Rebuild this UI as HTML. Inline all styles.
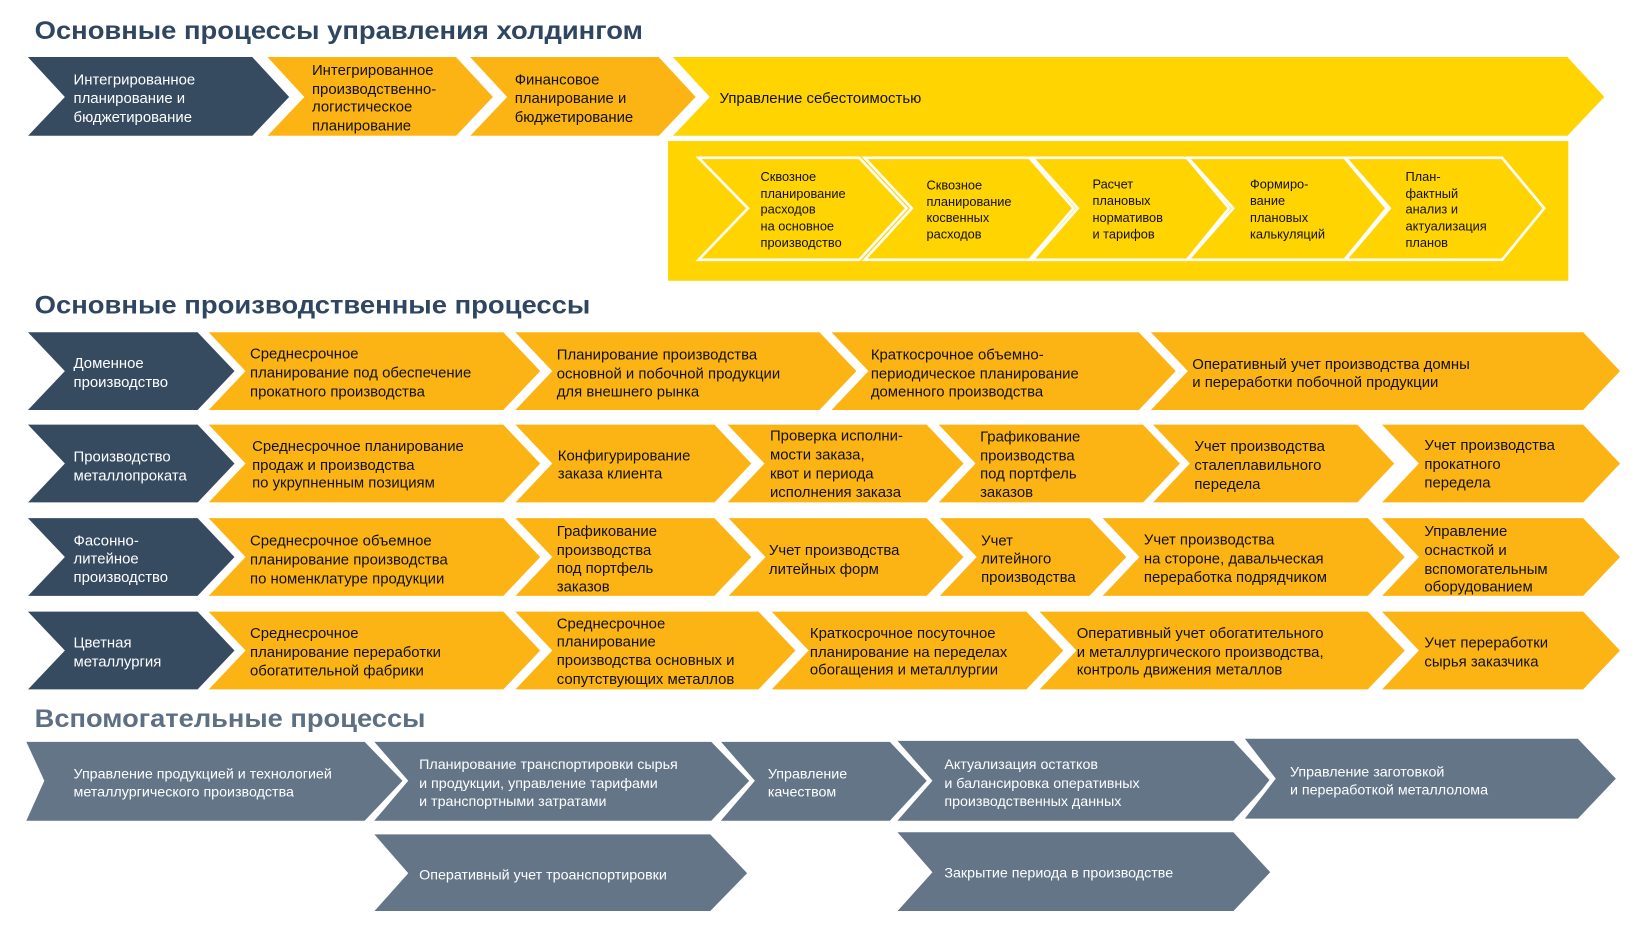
<!DOCTYPE html>
<html><head><meta charset="utf-8"><style>
html,body{margin:0;padding:0;background:#fff;}
svg{display:block;}
text{font-family:"Liberation Sans",Arial,sans-serif;}
.t{font-size:14.2px;fill:#111;}
.w{font-size:14.2px;fill:#fff;}
.g{font-size:13.6px;fill:#fff;}
.s{font-size:12.2px;fill:#111;}
.h{font-size:24px;font-weight:bold;fill:#2f4660;}
</style></head><body>
<svg width="1645" height="925" viewBox="0 0 1566 880" xmlns="http://www.w3.org/2000/svg">
<text class="h" x="33" y="37" textLength="579" lengthAdjust="spacingAndGlyphs">Основные процессы управления холдингом</text>
<text class="h" x="33" y="298" textLength="529" lengthAdjust="spacingAndGlyphs">Основные производственные процессы</text>
<text class="h" x="33" y="692" textLength="372" lengthAdjust="spacingAndGlyphs" style="fill:#5d6f82">Вспомогательные процессы</text>

<g stroke="#fff" stroke-width="4" stroke-linejoin="miter">
<!-- row 1 -->
<polygon fill="#364a60" points="22,52 241,52 278,92 241,131 22,131 59,92"/>
<polygon fill="#fcb415" points="250,52 435,52 472,92 435,131 250,131 287,92"/>
<polygon fill="#fcb415" points="443,52 628,52 665,92 628,131 443,131 480,92"/>
<polygon fill="#ffd400" points="636,52 1493,52 1530,92 1493,131 636,131 673,92"/>
</g>
<rect x="636" y="134" width="857" height="133" fill="#ffd400"/>
<g fill="none" stroke="#fff" stroke-width="2.5">
<polygon points="665,150 818,150 863,198 818,247 665,247 712,198"/>
<polygon points="823,150 980,150 1022,198 980,247 823,247 868,198"/>
<polygon points="983,150 1130,150 1170,198 1130,247 983,247 1026,198"/>
<polygon points="1131,150 1280,150 1320,198 1280,247 1131,247 1174,198"/>
<polygon points="1281,150 1430,150 1470,198 1430,247 1281,247 1323,198"/>
</g>

<g stroke="#fff" stroke-width="4">
<!-- row A -->
<polygon fill="#364a60" points="22,314 189,314 226,353 189,392 22,392 59,353"/>
<polygon fill="#fcb415" points="194,314 480,314 517,353 480,392 194,392 231,353"/>
<polygon fill="#fcb415" points="486,314 781,314 818,353 781,392 486,392 523,353"/>
<polygon fill="#fcb415" points="787,314 1085,314 1122,353 1085,392 787,392 824,353"/>
<polygon fill="#fcb415" points="1091,314 1508,314 1545,353 1508,392 1091,392 1128,353"/>
<!-- row B -->
<polygon fill="#364a60" points="22,402 189,402 226,441 189,480 22,480 59,441"/>
<polygon fill="#fcb415" points="194,402 480,402 517,441 480,480 194,480 231,441"/>
<polygon fill="#fcb415" points="486,402 681,402 718,441 681,480 486,480 523,441"/>
<polygon fill="#fcb415" points="688,402 883,402 920,441 883,480 688,480 725,441"/>
<polygon fill="#fcb415" points="889,402 1089,402 1126,441 1089,480 889,480 926,441"/>
<polygon fill="#fcb415" points="1093,402 1293,402 1330,441 1293,480 1093,480 1130,441"/>
<polygon fill="#fcb415" points="1311,402 1508,402 1545,441 1508,480 1311,480 1348,441"/>
<!-- row C -->
<polygon fill="#364a60" points="22,491 189,491 226,530 189,569 22,569 59,530"/>
<polygon fill="#fcb415" points="194,491 480,491 517,530 480,569 194,569 231,530"/>
<polygon fill="#fcb415" points="486,491 681,491 718,530 681,569 486,569 523,530"/>
<polygon fill="#fcb415" points="689,491 883,491 920,530 883,569 689,569 726,530"/>
<polygon fill="#fcb415" points="890,491 1038,491 1075,530 1038,569 890,569 927,530"/>
<polygon fill="#fcb415" points="1045,491 1303,491 1340,530 1303,569 1045,569 1082,530"/>
<polygon fill="#fcb415" points="1311,491 1508,491 1545,530 1508,569 1311,569 1348,530"/>
<!-- row D -->
<polygon fill="#364a60" points="22,580 189,580 226,619 189,658 22,658 59,619"/>
<polygon fill="#fcb415" points="194,580 480,580 517,619 480,658 194,658 231,619"/>
<polygon fill="#fcb415" points="486,580 723,580 760,619 723,658 486,658 523,619"/>
<polygon fill="#fcb415" points="730,580 978,580 1015,619 978,658 730,658 767,619"/>
<polygon fill="#fcb415" points="985,580 1303,580 1340,619 1303,658 985,658 1022,619"/>
<polygon fill="#fcb415" points="1311,580 1508,580 1545,619 1508,658 1311,658 1348,619"/>
<!-- gray -->
<polygon fill="#637587" points="22,704 348,704 386,743 348,783 22,783 40,743"/>
<polygon fill="#637587" points="352,704 678,704 716,743 678,783 352,783 386,743"/>
<polygon fill="#637587" points="682,704 848,704 885,743 848,783 682,783 716,743"/>
<polygon fill="#637587" points="850,703 1175,703 1212,743 1175,783 850,783 885,743"/>
<polygon fill="#637587" points="1181,701 1503,701 1541,741 1503,781 1181,781 1212,741"/>
<polygon fill="#637587" points="352,792 677,792 714,831 677,869 352,869 386,831"/>
<polygon fill="#637587" points="850,790 1175,790 1212,830 1175,869 850,869 885,830"/>
</g>

<!-- row 1 text -->
<text class="w"><tspan x="70" y="80">Интегрированное</tspan><tspan x="70" y="98">планирование и</tspan><tspan x="70" y="116">бюджетирование</tspan></text>
<text class="t"><tspan x="297" y="71">Интегрированное</tspan><tspan x="297" y="89">производственно-</tspan><tspan x="297" y="106">логистическое</tspan><tspan x="297" y="124">планирование</tspan></text>
<text class="t"><tspan x="490" y="80">Финансовое</tspan><tspan x="490" y="98">планирование и</tspan><tspan x="490" y="116">бюджетирование</tspan></text>
<text class="t" x="685" y="98">Управление себестоимостью</text>
<text class="s"><tspan x="724" y="172">Сквозное</tspan><tspan x="724" y="188">планирование</tspan><tspan x="724" y="203">расходов</tspan><tspan x="724" y="219">на основное</tspan><tspan x="724" y="235">производство</tspan></text>
<text class="s"><tspan x="882" y="180">Сквозное</tspan><tspan x="882" y="196">планирование</tspan><tspan x="882" y="211">косвенных</tspan><tspan x="882" y="227">расходов</tspan></text>
<text class="s"><tspan x="1040" y="179">Расчет</tspan><tspan x="1040" y="195">плановых</tspan><tspan x="1040" y="211">нормативов</tspan><tspan x="1040" y="227">и тарифов</tspan></text>
<text class="s"><tspan x="1190" y="179">Формиро-</tspan><tspan x="1190" y="195">вание</tspan><tspan x="1190" y="211">плановых</tspan><tspan x="1190" y="227">калькуляций</tspan></text>
<text class="s"><tspan x="1338" y="172">План-</tspan><tspan x="1338" y="188">фактный</tspan><tspan x="1338" y="203">анализ и</tspan><tspan x="1338" y="219">актуализация</tspan><tspan x="1338" y="235">планов</tspan></text>

<!-- row A -->
<text class="w"><tspan x="70" y="350">Доменное</tspan><tspan x="70" y="368">производство</tspan></text>
<text class="t"><tspan x="238" y="341">Среднесрочное</tspan><tspan x="238" y="359">планирование под обеспечение</tspan><tspan x="238" y="377">прокатного производства</tspan></text>
<text class="t"><tspan x="530" y="342">Планирование  производства</tspan><tspan x="530" y="360">основной и побочной продукции</tspan><tspan x="530" y="377">для внешнего рынка</tspan></text>
<text class="t"><tspan x="829" y="342">Краткосрочное объемно-</tspan><tspan x="829" y="360">периодическое планирование</tspan><tspan x="829" y="377">доменного производства</tspan></text>
<text class="t"><tspan x="1135" y="351">Оперативный учет производства домны</tspan><tspan x="1135" y="368">и переработки побочной продукции</tspan></text>
<!-- row B -->
<text class="w"><tspan x="70" y="439">Производство</tspan><tspan x="70" y="457">металлопроката</tspan></text>
<text class="t"><tspan x="240" y="429">Среднесрочное планирование</tspan><tspan x="240" y="447">продаж и производства</tspan><tspan x="240" y="464">по укрупненным позициям</tspan></text>
<text class="t"><tspan x="531" y="438">Конфигурирование</tspan><tspan x="531" y="455">заказа клиента</tspan></text>
<text class="t"><tspan x="733" y="419">Проверка исполни-</tspan><tspan x="733" y="437">мости заказа,</tspan><tspan x="733" y="455">квот и периода</tspan><tspan x="733" y="473">исполнения заказа</tspan></text>
<text class="t"><tspan x="933" y="420">Графикование</tspan><tspan x="933" y="438">производства</tspan><tspan x="933" y="455">под портфель</tspan><tspan x="933" y="473">заказов</tspan></text>
<text class="t"><tspan x="1137" y="429">Учет производства</tspan><tspan x="1137" y="447">сталеплавильного</tspan><tspan x="1137" y="465">передела</tspan></text>
<text class="t"><tspan x="1356" y="428">Учет производства</tspan><tspan x="1356" y="446">прокатного</tspan><tspan x="1356" y="464">передела</tspan></text>
<!-- row C -->
<text class="w"><tspan x="70" y="519">Фасонно-</tspan><tspan x="70" y="536">литейное</tspan><tspan x="70" y="554">производство</tspan></text>
<text class="t"><tspan x="238" y="519">Среднесрочное объемное</tspan><tspan x="238" y="537">планирование производства</tspan><tspan x="238" y="555">по номенклатуре продукции</tspan></text>
<text class="t"><tspan x="530" y="510">Графикование</tspan><tspan x="530" y="528">производства</tspan><tspan x="530" y="545">под портфель</tspan><tspan x="530" y="563">заказов</tspan></text>
<text class="t"><tspan x="732" y="528">Учет производства</tspan><tspan x="732" y="546">литейных форм</tspan></text>
<text class="t"><tspan x="934" y="519">Учет</tspan><tspan x="934" y="536">литейного</tspan><tspan x="934" y="554">производства</tspan></text>
<text class="t"><tspan x="1089" y="518">Учет производства</tspan><tspan x="1089" y="536">на стороне, давальческая</tspan><tspan x="1089" y="554">переработка подрядчиком</tspan></text>
<text class="t"><tspan x="1356" y="510">Управление</tspan><tspan x="1356" y="528">оснасткой и</tspan><tspan x="1356" y="546">вспомогательным</tspan><tspan x="1356" y="563">оборудованием</tspan></text>
<!-- row D -->
<text class="w"><tspan x="70" y="616">Цветная</tspan><tspan x="70" y="634">металлургия</tspan></text>
<text class="t"><tspan x="238" y="607">Среднесрочное</tspan><tspan x="238" y="625">планирование переработки</tspan><tspan x="238" y="643">обогатительной фабрики</tspan></text>
<text class="t"><tspan x="530" y="598">Среднесрочное</tspan><tspan x="530" y="615">планирование</tspan><tspan x="530" y="633">производства основных и</tspan><tspan x="530" y="651">сопутствующих металлов</tspan></text>
<text class="t"><tspan x="771" y="607">Краткосрочное посуточное</tspan><tspan x="771" y="625">планирование на переделах</tspan><tspan x="771" y="642">обогащения и металлургии</tspan></text>
<text class="t"><tspan x="1025" y="607">Оперативный учет обогатительного</tspan><tspan x="1025" y="625">и металлургического производства,</tspan><tspan x="1025" y="642">контроль движения металлов</tspan></text>
<text class="t"><tspan x="1356" y="616">Учет переработки</tspan><tspan x="1356" y="634">сырья заказчика</tspan></text>
<!-- gray -->
<text class="g"><tspan x="70" y="741">Управление продукцией и технологией</tspan><tspan x="70" y="758">металлургического производства</tspan></text>
<text class="g"><tspan x="399" y="732">Планирование транспортировки сырья</tspan><tspan x="399" y="750">и продукции, управление тарифами</tspan><tspan x="399" y="767">и транспортными затратами</tspan></text>
<text class="g"><tspan x="731" y="741">Управление</tspan><tspan x="731" y="758">качеством</tspan></text>
<text class="g"><tspan x="899" y="732">Актуализация остатков</tspan><tspan x="899" y="750">и балансировка оперативных</tspan><tspan x="899" y="767">производственных данных</tspan></text>
<text class="g"><tspan x="1228" y="739">Управление заготовкой</tspan><tspan x="1228" y="756">и переработкой металлолома</tspan></text>
<text class="g" x="399" y="837">Оперативный учет троанспортировки</text>
<text class="g" x="899" y="835">Закрытие периода в производстве</text>
</svg>
</body></html>
